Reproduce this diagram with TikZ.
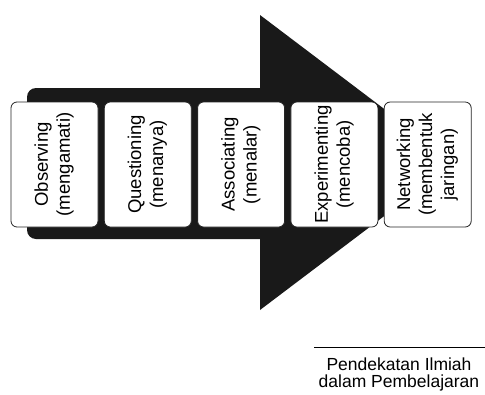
\documentclass[tikz,border=0pt]{standalone}
\usepackage{fontspec}
\usepackage{graphicx}
\setmainfont{Liberation Sans}
\usetikzlibrary{positioning}

\newcommand{\vtext}[1]{\rotatebox{90}{\begin{tabular}{@{}c@{}}#1\end{tabular}}}

\begin{document}
\begin{tikzpicture}[x=1pt,y=-1pt]

  \tikzstyle{stage}=[draw=black!85,fill=white,rounded corners=6pt,line width=0.8pt,
    minimum width=87pt,minimum height=125pt,inner sep=0pt,
    font=\fontsize{18.5}{22}\selectfont]

  \clip (0,0) rectangle (485,394);

  % big arrow
  \fill[black!90] (455,162.5) -- (260,310) -- (260,239) [rounded corners=9pt] -- (27,239) -- (27,88) [sharp corners] -- (260,88) -- (260,15) -- cycle;

  \node[stage] (observing) at (54.5,164.5) {\vtext{Observing\\(mengamati)}};
  \node[stage, right=5.5pt of observing] (questioning) {\vtext{Questioning\\(menanya)}};
  \node[stage, right=5.5pt of questioning] (associating) {\vtext{Associating\\(menalar)}};
  \node[stage, right=5.5pt of associating] (experimenting) {\vtext{Experimenting\\(mencoba)}};
  \node[stage, right=5.5pt of experimenting] (networking) {\vtext{Networking\\(membentuk\\jaringan)}};

  % caption
  \coordinate (rule start) at (314,347);
  \coordinate (rule end) at (485,347);
  \draw[line width=0.8pt] (rule start) -- (rule end);
  \node[align=center,font=\fontsize{17.5}{17}\selectfont] (caption) at (399,374) {Pendekatan Ilmiah\\dalam Pembelajaran};

\end{tikzpicture}
\end{document}
